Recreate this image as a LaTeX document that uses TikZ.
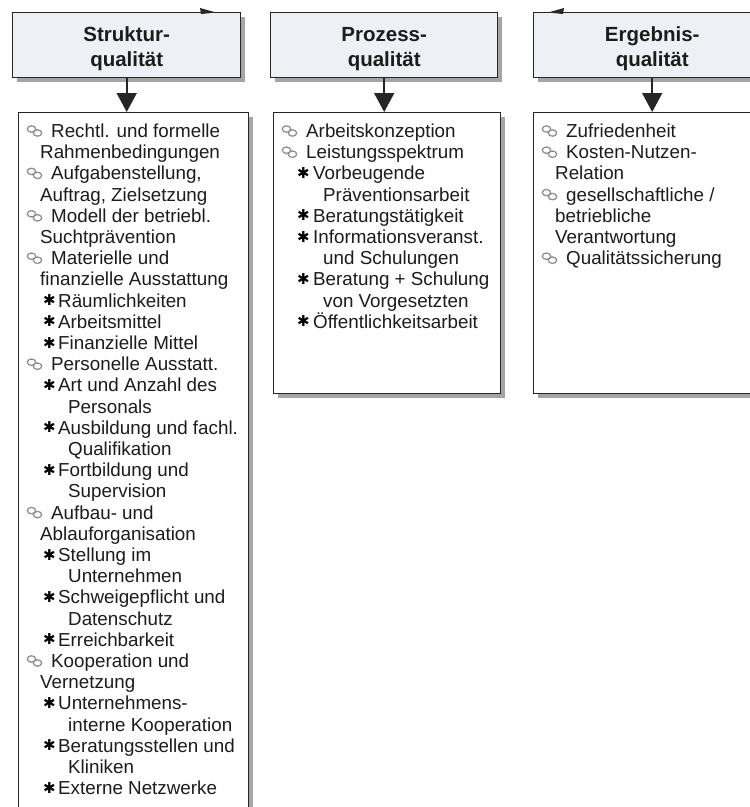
\documentclass[tikz,border=0pt]{standalone}
\usepackage{fontspec}
\setmainfont{Liberation Sans}
\newfontfamily\symfont{DejaVu Sans}
\usetikzlibrary{arrows.meta,shadows,calc}

\definecolor{hdrfill}{HTML}{EDF1F6}
\definecolor{shadowgray}{HTML}{A5A5A5}
\definecolor{linecol}{HTML}{262626}
\definecolor{textcol}{HTML}{1C1C1C}
\definecolor{icongray}{HTML}{909090}

% horizontal offsets of the list entries, measured from the left edge of a box
\def\offm{33}   % main entry (after the icon)
\def\offc{22}   % continuation of a main entry
\def\offs{40}   % sub entry (after the star)
\def\offt{50}   % continuation of a sub entry
\def\kindm{m}
\def\kinds{s}

\tikzset{
  hdrbox/.style={draw=linecol, line width=1.4pt, fill=hdrfill, align=center,
    inner sep=0pt, anchor=north west, minimum height=65pt,
    font=\bfseries\fontsize{20.5}{25}\selectfont, text=textcol,
    drop shadow={shadow xshift=4pt, shadow yshift=-4pt, fill=shadowgray, opacity=1}},
  listbox/.style={draw=linecol, line width=1.3pt, fill=white, inner sep=0pt,
    anchor=north west,
    drop shadow={shadow xshift=4pt, shadow yshift=-4pt, fill=shadowgray, opacity=1}},
  itemtext/.style={anchor=base west, inner sep=0pt, text=textcol,
    font=\fontsize{18.8}{21.2}\selectfont},
  starmark/.style={anchor=base west, inner sep=0pt, text=black, yshift=1.5pt,
    font=\symfont\fontsize{15}{15}\selectfont},
  downarrow/.style={draw=linecol, line width=1.6pt,
    -{Triangle[width=20pt,length=19pt]}},
  linkicon/.pic={
    \draw[icongray, line width=1.3pt] (4.5,-8.5) ellipse (4.2 and 3.2);
    \draw[icongray, line width=1.3pt] (10.5,-4.5) ellipse (4.2 and 3.2);
  }
}

\newcommand{\hdrtext}[2]{\rule{0pt}{24pt}#1\\#2\rule[-6pt]{0pt}{6pt}}

\begin{document}
\begin{tikzpicture}[x=1pt,y=-1pt]
\useasboundingbox (0,0) rectangle (750,807);

% quality headers
\node[hdrbox, minimum width=228pt] (hdr1) at (12,12) {\hdrtext{Struktur-}{qualität}};
\node[hdrbox, minimum width=227pt] (hdr2) at (270,12) {\hdrtext{Prozess-}{qualität}};
\node[hdrbox, minimum width=237pt] (hdr3) at (533,12) {\hdrtext{Ergebnis-}{qualität}};

% arrowheads of the feedback connectors entering from above
\fill[linecol] (200,8) -- (216,12.5) -- (201,14) -- cycle;
\fill[linecol] (564,8) -- (548,12.5) -- (563,14) -- cycle;

% list boxes
\node[listbox, minimum width=230pt, minimum height=712pt] (list1) at (18,112) {};
\node[listbox, minimum width=227pt, minimum height=281pt] (list2) at (273,112) {};
\node[listbox, minimum width=240pt, minimum height=281pt] (list3) at (533,112) {};

% connectors header -> list
\draw[downarrow] (hdr1.south) -- (hdr1.south |- list1.north);
\draw[downarrow] (hdr2.south) -- (hdr2.south |- list2.north);
\draw[downarrow] (hdr3.south) -- (hdr3.south |- list3.north);

% Strukturqualität
\foreach \k/\t [count=\i] in {
  m/Rechtl. und formelle, c/Rahmenbedingungen,
  m/Aufgabenstellung{,}, {c/Auftrag, Zielsetzung},
  m/Modell der betriebl., c/Suchtprävention,
  m/Materielle und, c/finanzielle Ausstattung,
  s/Räumlichkeiten, s/Arbeitsmittel, s/Finanzielle Mittel,
  m/Personelle Ausstatt.,
  s/Art und Anzahl des, t/Personals,
  s/Ausbildung und fachl., t/Qualifikation,
  s/Fortbildung und, t/Supervision,
  m/Aufbau- und, c/Ablauforganisation,
  s/Stellung im, t/Unternehmen,
  s/Schweigepflicht und, t/Datenschutz,
  s/Erreichbarkeit,
  m/Kooperation und, c/Vernetzung,
  s/Unternehmens-, t/interne Kooperation,
  s/Beratungsstellen und, t/Kliniken,
  s/Externe Netzwerke}{
  \pgfmathsetmacro\yy{137.5+21.2*(\i-1)}
  \node[itemtext] (str\i) at ({18+\csname off\k\endcsname},\yy) {\t};
  \ifx\k\kindm \pic at (27,\yy) {linkicon}; \fi
  \ifx\k\kinds \node[starmark] (strs\i) at (43,\yy) {✱}; \fi
}

% Prozessqualität
\foreach \k/\t [count=\i] in {
  m/Arbeitskonzeption, m/Leistungsspektrum,
  s/Vorbeugende, t/Präventionsarbeit,
  s/Beratungstätigkeit,
  s/Informationsveranst., t/und Schulungen,
  s/Beratung + Schulung, t/von Vorgesetzten,
  s/Öffentlichkeitsarbeit}{
  \pgfmathsetmacro\yy{137.5+21.2*(\i-1)}
  \node[itemtext] (proz\i) at ({273+\csname off\k\endcsname},\yy) {\t};
  \ifx\k\kindm \pic at (282,\yy) {linkicon}; \fi
  \ifx\k\kinds \node[starmark] (prozs\i) at (297,\yy) {✱}; \fi
}

% Ergebnisqualität
\foreach \k/\t [count=\i] in {
  m/Zufriedenheit, m/Kosten-Nutzen-, c/Relation,
  m/gesellschaftliche \slash{}, c/betriebliche, c/Verantwortung,
  m/Qualitätssicherung}{
  \pgfmathsetmacro\yy{137.5+21.2*(\i-1)}
  \node[itemtext] (erg\i) at ({533+\csname off\k\endcsname},\yy) {\t};
  \ifx\k\kindm \pic at (542,\yy) {linkicon}; \fi
}
\end{tikzpicture}
\end{document}
